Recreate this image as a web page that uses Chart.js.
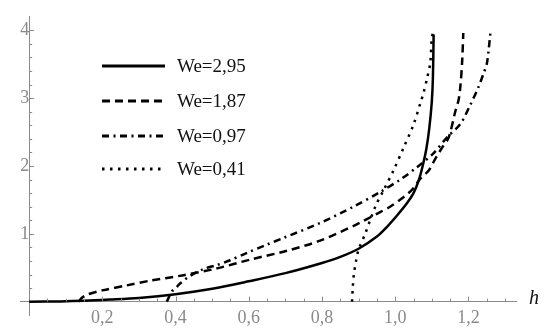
<!DOCTYPE html>
<html>
<head>
<meta charset="utf-8">
<script src="https://cdn.jsdelivr.net/npm/chart.js@4/dist/chart.umd.min.js"></script>
<style>
  html, body { margin: 0; padding: 0; background: #fff; }
  #wrap { width: 545px; height: 332px; }
</style>
</head>
<body>
<div id="wrap"><canvas id="heightChart" width="545" height="332"></canvas></div>
<script>
// series names
const seriesLabels = ['We=2,95', 'We=1,87', 'We=0,97', 'We=0,41'];

// tick labels
const xTicks = [0.2, 0.4, 0.6, 0.8, 1.0, 1.2];
const yTicks = [1, 2, 3, 4];

// We=2,95 (solid)
const h295 = [0, 0.085, 0.15, 0.22, 0.3, 0.4, 0.5, 0.6, 0.7, 0.8, 0.85, 0.9, 0.95, 0.977, 1.005, 1.032, 1.05, 1.065, 1.075, 1.085, 1.093, 1.1, 1.103, 1.105];
const v295 = [0, 0.003, 0.012, 0.03, 0.055, 0.11, 0.19, 0.3, 0.42, 0.57, 0.66, 0.78, 0.96, 1.1, 1.27, 1.45, 1.6, 1.8, 2.0, 2.25, 2.55, 2.95, 3.3, 3.94];

// We=1,87 (dashed)
const h187 = [0.135, 0.145, 0.162, 0.203, 0.267, 0.331, 0.422, 0.513, 0.604, 0.704, 0.795, 0.895, 0.955, 0.986, 1.018, 1.046, 1.068, 1.091, 1.109, 1.128, 1.146, 1.164, 1.173, 1.178, 1.183, 1.186];
const v187 = [0, 0.06, 0.11, 0.17, 0.24, 0.31, 0.39, 0.49, 0.62, 0.75, 0.9, 1.14, 1.31, 1.4, 1.52, 1.65, 1.81, 1.93, 2.1, 2.27, 2.42, 2.8, 2.97, 3.17, 3.55, 3.96];

// We=0,97 (dash-dot)
const h097 = [0.376, 0.39, 0.4, 0.413, 0.44, 0.476, 0.513, 0.549, 0.595, 0.649, 0.695, 0.795, 0.886, 0.96, 1.014, 1.059, 1.105, 1.141, 1.178, 1.205, 1.228, 1.241, 1.25, 1.255, 1.26];
const v097 = [0, 0.15, 0.2, 0.27, 0.38, 0.48, 0.54, 0.61, 0.72, 0.84, 0.94, 1.16, 1.4, 1.62, 1.8, 1.98, 2.19, 2.42, 2.62, 2.9, 3.17, 3.36, 3.5, 3.7, 3.96];

// We=0,41 (dotted)
const h041 = [0.882, 0.884, 0.887, 0.893, 0.9, 0.918, 0.932, 0.948, 0.968, 0.995, 1.023, 1.05, 1.07, 1.077, 1.087, 1.096, 1.1, 1.105];
const v041 = [0, 0.2, 0.4, 0.6, 0.77, 1.0, 1.21, 1.43, 1.64, 1.93, 2.27, 2.61, 2.95, 3.07, 3.29, 3.53, 3.89, 4.0];

const toPoints = (xs, ys) => xs.map((x, i) => ({ x: x, y: ys[i] }));
const dashes = [[], [8, 5], [7, 4.5, 2, 4.5], [2.5, 5.5]];

const axisGray = '#8a8a8a';
const labelFont = { family: "'Liberation Serif', 'Times New Roman', serif", size: 18 };

// Mathematica-like inner ticks, legend and axis name
const decorPlugin = {
  id: 'decor',
  afterDraw(chart) {
    const c = chart.ctx;
    const xs = chart.scales.x, ys = chart.scales.y;
    const x0 = xs.getPixelForValue(0), y0 = ys.getPixelForValue(0);
    c.save();
    c.strokeStyle = axisGray;
    c.lineWidth = 1;
    c.beginPath();
    for (let i = 1; i <= 26; i++) {
      const v = i * 0.05;
      const px = Math.round(xs.getPixelForValue(v)) + 0.5;
      const len = (i % 4 === 0) ? 5 : 3;
      c.moveTo(px, y0); c.lineTo(px, y0 - len);
    }
    for (let i = 1; i <= 20; i++) {
      const v = i * 0.2;
      const py = Math.round(ys.getPixelForValue(v)) + 0.5;
      const len = (i % 5 === 0) ? 5 : 3;
      c.moveTo(x0, py); c.lineTo(x0 + len, py);
    }
    c.stroke();

    // axis name
    c.fillStyle = '#111';
    c.font = "italic 20px 'Liberation Serif', serif";
    c.textAlign = 'left';
    c.textBaseline = 'middle';
    c.fillText('h', 529, 299);

    // legend
    const rows = [66, 101, 136, 169];
    chart.data.datasets.forEach((ds, i) => {
      c.strokeStyle = '#000';
      c.lineWidth = 3;
      c.setLineDash(ds.borderDash || []);
      c.beginPath();
      c.moveTo(102, rows[i]); c.lineTo(165, rows[i]);
      c.stroke();
      c.setLineDash([]);
      c.fillStyle = '#111';
      c.font = "19px 'Liberation Serif', serif";
      c.fillText(ds.label, 177, rows[i] + 1);
    });
    c.restore();
  }
};

const chartConfig = {
  type: 'scatter',
  data: {
    datasets: seriesLabels.map((label, i) => ({
      label: label,
      data: [toPoints(h295, v295), toPoints(h187, v187), toPoints(h097, v097), toPoints(h041, v041)][i],
      showLine: true,
      borderColor: '#000',
      borderWidth: 2.5,
      borderDash: dashes[i],
      pointRadius: 0,
      tension: 0.3,
      fill: false
    }))
  },
  options: {
    responsive: false,
    animation: false,
    layout: { padding: { left: 20, top: 14, right: 29, bottom: 15 } },
    plugins: { legend: { display: false }, tooltip: { enabled: false } },
    scales: {
      x: {
        type: 'linear',
        position: { y: 0 },
        min: -0.025,
        max: 1.33,
        afterBuildTicks: s => { s.ticks = xTicks.map(v => ({ value: v })); },
        ticks: {
          color: axisGray,
          font: labelFont,
          padding: 6,
          maxRotation: 0,
          callback: v => v.toFixed(1).replace('.', ',')
        },
        grid: { display: false, drawTicks: false },
        border: { display: true, color: axisGray, width: 1 }
      },
      y: {
        type: 'linear',
        position: { x: 0 },
        min: -0.2,
        max: 4.2,
        afterBuildTicks: s => { s.ticks = yTicks.map(v => ({ value: v })); },
        ticks: {
          color: axisGray,
          font: labelFont,
          padding: 6,
          callback: v => String(v)
        },
        grid: { display: false, drawTicks: false },
        border: { display: true, color: axisGray, width: 1 }
      }
    }
  },
  plugins: [decorPlugin]
};

new Chart(document.getElementById('heightChart').getContext('2d'), chartConfig);
</script>
</body>
</html>
